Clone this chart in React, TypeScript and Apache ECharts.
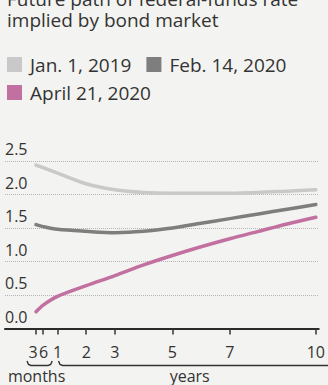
import React, { useEffect, useRef } from "react";
import * as echarts from "echarts";

const TITLE = "Future path of federal-funds rate\nimplied by bond market";
const SERIES_NAMES = ["Jan. 1, 2019", "Feb. 14, 2020", "April 21, 2020"];
const MATURITIES = [0.25, 0.5, 1, 2, 3, 4, 5, 6, 7, 8, 9, 10];
const JAN_2019 = [2.44, 2.4, 2.32, 2.16, 2.07, 2.03, 2.02, 2.02, 2.02, 2.03, 2.05, 2.07];
const FEB_2020 = [1.55, 1.52, 1.48, 1.45, 1.43, 1.45, 1.5, 1.57, 1.64, 1.71, 1.78, 1.85];
const APR_2020 = [0.25, 0.35, 0.48, 0.64, 0.79, 0.95, 1.09, 1.22, 1.34, 1.45, 1.56, 1.66];
const X_TICKS = [0.25, 0.5, 1, 2, 3, 5, 7, 10];
const X_TICK_LABELS: Record<string, string> = { "0.25": "3", "0.5": "6", "1": "1", "2": "2", "3": "3", "5": "5", "7": "7", "10": "10" };
const MONTHS_LABEL = "months";
const YEARS_LABEL = "years";

const COLORS = ["#c9c9c9", "#7e7e7e", "#c2709f"];
const TEXT = "#333333";
const FONT = "'Open Sans', sans-serif";

export default function App() {
  const ref = useRef<HTMLDivElement>(null);
  useEffect(() => {
    if (!ref.current) return;
    const chart = echarts.init(ref.current, undefined, { renderer: "svg" });
    const values = [JAN_2019, FEB_2020, APR_2020];
    chart.setOption({
      animation: false,
      backgroundColor: "#f3f3f1",
      textStyle: { fontFamily: FONT },
      title: {
        text: TITLE,
        left: 7,
        top: -12,
        padding: 0,
        textStyle: { fontSize: 19, fontWeight: "normal", lineHeight: 21, color: TEXT, fontFamily: FONT },
      },
      legend: [
        {
          data: SERIES_NAMES.slice(0, 2),
          left: 7,
          top: 55,
          padding: 0,
          icon: "rect",
          itemWidth: 15,
          itemHeight: 15,
          itemGap: 15,
          textStyle: { fontSize: 19, color: TEXT, fontFamily: FONT, padding: [0, 0, 0, 3], lineHeight: 19 },
        },
        {
          data: SERIES_NAMES.slice(2),
          left: 7,
          top: 83,
          padding: 0,
          icon: "rect",
          itemWidth: 15,
          itemHeight: 15,
          textStyle: { fontSize: 19, color: TEXT, fontFamily: FONT, padding: [0, 0, 0, 3], lineHeight: 19 },
        },
      ],
      grid: { left: 5, right: 0, top: 161, bottom: 56.5, containLabel: false },
      xAxis: {
        type: "value",
        min: -0.83,
        max: 10.1,
        splitLine: { show: false },
        axisLine: { show: true, onZero: false, lineStyle: { color: "#2a2a2a", width: 2 } },
        axisTick: { show: true, customValues: X_TICKS, length: 6, lineStyle: { color: "#333", width: 1.5 } },
        axisLabel: {
          customValues: X_TICKS,
          margin: 15,
          fontSize: 16,
          color: TEXT,
          fontFamily: FONT,
          formatter: (v: number) => {
            const t = X_TICK_LABELS[String(v)] ?? String(v);
            if (v === 0.25) return "{l|" + t + "}";
            if (v === 0.5) return "{r|" + t + "}";
            return t;
          },
          rich: {
            l: { fontSize: 16, color: TEXT, fontFamily: FONT, padding: [0, 6, 0, 0] },
            r: { fontSize: 16, color: TEXT, fontFamily: FONT, padding: [0, 0, 0, 1] },
          },
        },
      },
      yAxis: {
        type: "value",
        min: 0,
        max: 2.5,
        interval: 0.5,
        axisLine: { show: false },
        axisTick: { show: false },
        splitLine: { show: true, lineStyle: { color: "#b5b5b5", type: "dotted", width: 1 } },
        axisLabel: {
          inside: true,
          margin: 0,
          align: "left",
          verticalAlign: "bottom",
          padding: [0, 0, 4, 0],
          fontSize: 16,
          color: TEXT,
          fontFamily: FONT,
          formatter: (v: number) => v.toFixed(1),
        },
      },
      series: SERIES_NAMES.map((name, i) => ({
        name,
        type: "line",
        smooth: 0.3,
        showSymbol: false,
        symbol: "none",
        color: COLORS[i],
        lineStyle: { width: 3.5, color: COLORS[i], cap: "round" },
        data: MATURITIES.map((m, k) => [m, values[i][k]]),
        z: 3 + i,
      })),
    });

    const px = (v: number) => chart.convertToPixel({ xAxisIndex: 0 }, v) as number;
    const axisY = chart.convertToPixel({ yAxisIndex: 0 }, 0) as number;
    const by = axisY + 37;
    const m0 = px(0.25) - 9;
    const m1 = px(0.5) + 9;
    const y0 = px(1) + 1;
    const w = chart.getWidth();
    chart.setOption({
      graphic: [
        {
          type: "polyline",
          silent: true,
          shape: { points: [[m0, by - 4.5], [m0 + 1.5, by - 1], [m0 + 4, by], [m1 - 4, by], [m1 - 1.5, by - 1], [m1, by - 4.5]] },
          style: { stroke: "#333", lineWidth: 1.4, fill: "none" },
        },
        {
          type: "polyline",
          silent: true,
          shape: { points: [[y0, by - 4.5], [y0 + 1.5, by - 1], [y0 + 4, by], [w + 5, by]] },
          style: { stroke: "#333", lineWidth: 1.4, fill: "none" },
        },
        {
          type: "text",
          silent: true,
          x: (m0 + m1) / 2 - 3,
          y: by + 10,
          style: { text: MONTHS_LABEL, fill: TEXT, font: "16px 'Open Sans', sans-serif", align: "center", verticalAlign: "middle" },
        },
        {
          type: "text",
          silent: true,
          x: (px(1) + px(10)) / 2 + 3,
          y: by + 10,
          style: { text: YEARS_LABEL, fill: TEXT, font: "16px 'Open Sans', sans-serif", align: "center", verticalAlign: "middle" },
        },
      ],
    });
    return () => chart.dispose();
  }, []);
  return <div ref={ref} style={{ width: 328, height: 385, position: "absolute", left: 0, top: 0 }} />;
}
